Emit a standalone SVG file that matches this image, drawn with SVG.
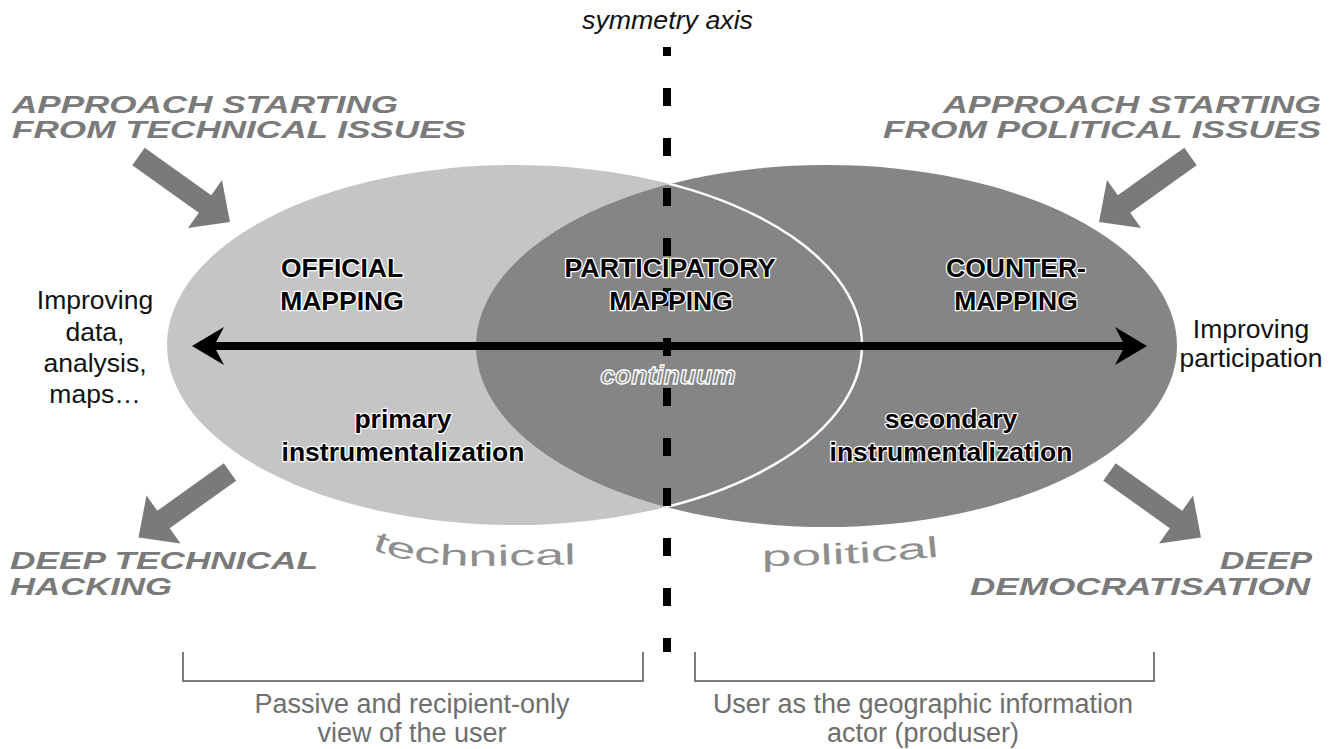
<svg xmlns="http://www.w3.org/2000/svg" width="1338" height="749" viewBox="0 0 1338 749">
<style>
.cap{font-family:"Liberation Sans",Arial,sans-serif;font-weight:bold;font-style:italic;font-size:23px;fill:#7a7a7a;}
.lbl{font-family:"Liberation Sans",Arial,sans-serif;font-weight:bold;font-size:26.5px;fill:#000;stroke:#fff;stroke-width:2.5px;paint-order:stroke;stroke-linejoin:round;text-anchor:middle;}
.side{font-family:"Liberation Sans",Arial,sans-serif;font-size:26.5px;fill:#111;text-anchor:middle;}
.bot{font-family:"Liberation Sans",Arial,sans-serif;font-size:27px;fill:#6e6e6e;text-anchor:middle;}
.arc{font-family:"Liberation Sans",Arial,sans-serif;font-size:29px;fill:#8e8e8e;}
.blk{fill:#7a7a7a;}
.brk{fill:none;stroke:#7a7a7a;stroke-width:2;}
.cont{font-family:"Liberation Sans",Arial,sans-serif;font-weight:bold;font-style:italic;font-size:26.5px;fill:#8a8a8a;stroke:#fff;stroke-width:1.3px;text-anchor:middle;}
.axis-lbl{font-family:"Liberation Sans",Arial,sans-serif;font-style:italic;font-size:25px;fill:#111;}
</style>
<defs>
<path id="blockArrow" d="M144.7,147.8 L211.2,195.3 L222,180 L230,222 L188,228 L198.8,212.7 L132.3,165.2 Z"/>
<clipPath id="clipRight"><ellipse cx="826.5" cy="346" rx="350.5" ry="181"/></clipPath>
<path id="arcTech" d="M372,549 Q410,566 480,566 L600,564"/>
<path id="arcPol" d="M762,566 Q850,566 955,555"/>
</defs>

<g id="official-mapping">
<ellipse cx="514.5" cy="345" rx="347.5" ry="180" fill="#c5c5c5"/>
</g>
<g id="counter-mapping">
<ellipse cx="826.5" cy="346" rx="350.5" ry="181" fill="#858585"/>
</g>
<g id="participatory-mapping">
<ellipse cx="514.5" cy="345" rx="347.5" ry="180" fill="none" stroke="#fff" stroke-width="2.5" clip-path="url(#clipRight)"/>
</g>

<g id="symmetry-axis">
<line x1="667" y1="47" x2="667" y2="652" stroke="#000" stroke-width="8" stroke-dasharray="18 32" stroke-dashoffset="9"/>
<text class="axis-lbl" x="582" y="29" textLength="171" lengthAdjust="spacingAndGlyphs">symmetry axis</text>
</g>

<g id="connectors">
<line x1="210" y1="346" x2="1130" y2="346" stroke="#000" stroke-width="8"/>
<polygon points="192,346 224,327 214,346 224,365" fill="#000"/>
<polygon points="1147,346 1115,327 1125,346 1115,365" fill="#000"/>
<use href="#blockArrow" class="blk"/>
<use href="#blockArrow" class="blk" transform="translate(1329,0) scale(-1,1)"/>
<use href="#blockArrow" class="blk" transform="translate(368.5,315.5) scale(-1,1)"/>
<use href="#blockArrow" class="blk" transform="translate(971,315.5)"/>
<path class="brk" d="M183,652 V681 H643 V652"/>
<path class="brk" d="M695,652 V681 H1154 V652"/>
</g>

<g id="labels-official">
<text class="lbl" x="342" y="277">OFFICIAL</text>
<text class="lbl" x="342" y="310">MAPPING</text>
<text class="lbl" x="403" y="428">primary</text>
<text class="lbl" x="403" y="461">instrumentalization</text>
</g>
<g id="labels-participatory">
<text class="lbl" x="670" y="277" textLength="211" lengthAdjust="spacingAndGlyphs">PARTICIPATORY</text>
<text class="lbl" x="671" y="310">MAPPING</text>
<text class="cont" x="668" y="384">continuum</text>
</g>
<g id="labels-counter">
<text class="lbl" x="1016" y="277">COUNTER-</text>
<text class="lbl" x="1016" y="310">MAPPING</text>
<text class="lbl" x="951" y="428">secondary</text>
<text class="lbl" x="951" y="461">instrumentalization</text>
</g>

<g id="approach-technical">
<text class="cap" x="12" y="113" textLength="386" lengthAdjust="spacingAndGlyphs">APPROACH STARTING</text>
<text class="cap" x="12" y="138" textLength="454" lengthAdjust="spacingAndGlyphs">FROM TECHNICAL ISSUES</text>
</g>
<g id="approach-political">
<text class="cap" x="943" y="113" textLength="378" lengthAdjust="spacingAndGlyphs">APPROACH STARTING</text>
<text class="cap" x="883" y="138" textLength="438" lengthAdjust="spacingAndGlyphs">FROM POLITICAL ISSUES</text>
</g>
<g id="deep-technical-hacking">
<text class="cap" x="10" y="569" textLength="308" lengthAdjust="spacingAndGlyphs">DEEP TECHNICAL</text>
<text class="cap" x="10" y="595" textLength="162" lengthAdjust="spacingAndGlyphs">HACKING</text>
</g>
<g id="deep-democratisation">
<text class="cap" x="1220" y="569" textLength="92" lengthAdjust="spacingAndGlyphs">DEEP</text>
<text class="cap" x="970" y="595" textLength="340" lengthAdjust="spacingAndGlyphs">DEMOCRATISATION</text>
</g>

<g id="improving-data">
<text class="side" x="95" y="309">Improving</text>
<text class="side" x="95" y="341">data,</text>
<text class="side" x="95" y="372">analysis,</text>
<text class="side" x="95" y="403">maps…</text>
</g>
<g id="improving-participation">
<text class="side" x="1251" y="338">Improving</text>
<text class="side" x="1251" y="367">participation</text>
</g>

<g id="technical-political">
<text class="arc"><textPath href="#arcTech" textLength="206" lengthAdjust="spacingAndGlyphs">technical</textPath></text>
<text class="arc"><textPath href="#arcPol" textLength="178" lengthAdjust="spacingAndGlyphs">political</textPath></text>
</g>

<g id="user-views">
<text class="bot" x="412" y="713">Passive and recipient-only</text>
<text class="bot" x="412" y="742">view of the user</text>
<text class="bot" x="923" y="713">User as the geographic information</text>
<text class="bot" x="923" y="742">actor (produser)</text>
</g>
</svg>
